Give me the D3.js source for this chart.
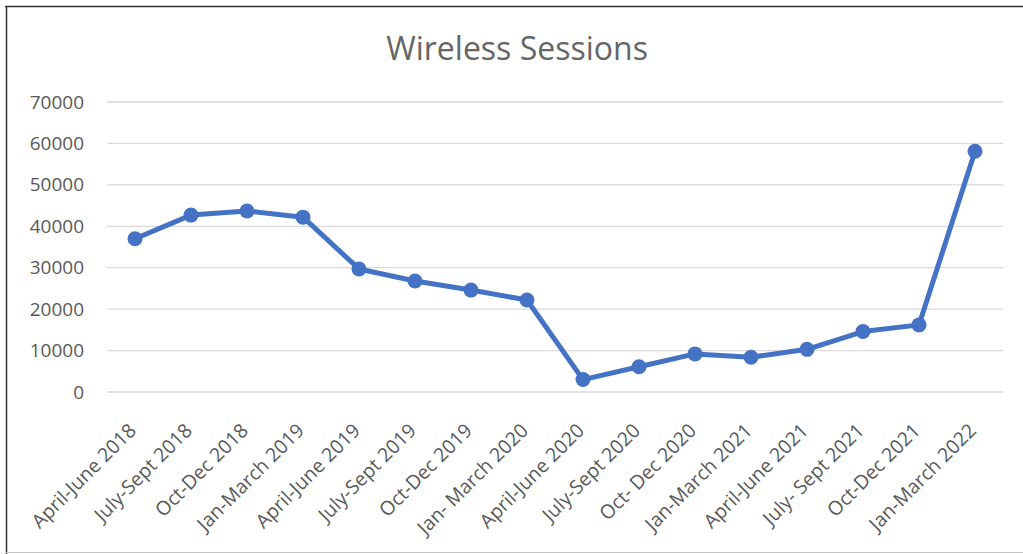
<!DOCTYPE html>
<html>
<head>
<meta charset="utf-8">
<script src="https://cdn.jsdelivr.net/npm/d3@7"></script>
<style>
  body { margin: 0; background: #fff; }
  text { font-family: "Open Sans", "Liberation Sans", sans-serif; fill: #595959; }
</style>
</head>
<body>
<svg id="chart" width="1023" height="554"></svg>
<script>
var quarters = ["April-June 2018", "July-Sept 2018", "Oct-Dec 2018", "Jan-March 2019",
    "April-June 2019", "July-Sept 2019", "Oct-Dec 2019", "Jan- March 2020",
    "April-June 2020", "July-Sept 2020", "Oct- Dec 2020", "Jan-March 2021",
    "April-June 2021", "July- Sept 2021", "Oct-Dec 2021", "Jan-March 2022"];
var sessions = [37000, 42700, 43700, 42200, 29700, 26800, 24600, 22200,
    3000, 6100, 9200, 8400, 10300, 14600, 16200, 58100];
var yTicks = [0, 10000, 20000, 30000, 40000, 50000, 60000, 70000];

var svg = d3.select("#chart");

var x = d3.scalePoint()
    .domain(quarters)
    .range([107, 1003])
    .padding(0.5);

var y = d3.scaleLinear()
    .domain([0, 70000])
    .range([392, 102]);

// frame (screenshot edge)
svg.append("line").attr("x1", 5).attr("x2", 1023).attr("y1", 6.5).attr("y2", 6.5)
    .attr("stroke", "#333").attr("stroke-width", 1.5);
svg.append("line").attr("x1", 6.5).attr("x2", 6.5).attr("y1", 6).attr("y2", 554)
    .attr("stroke", "#333").attr("stroke-width", 1.5);
svg.append("line").attr("x1", 6).attr("x2", 1023).attr("y1", 552.5).attr("y2", 552.5)
    .attr("stroke", "#c8c8c8").attr("stroke-width", 1);

// title
svg.append("text")
    .attr("x", 517)
    .attr("y", 60)
    .attr("text-anchor", "middle")
    .style("font-size", "32px")
    .style("fill", "#666")
    .text("Wireless Sessions");

// gridlines
svg.append("g")
    .selectAll("line")
    .data(yTicks)
    .join("line")
    .attr("x1", 107)
    .attr("x2", 1003)
    .attr("y1", d => y(d))
    .attr("y2", d => y(d))
    .attr("stroke", "#d9d9d9")
    .attr("stroke-width", 1.3);

// y axis labels
var yAxis = svg.append("g")
    .attr("transform", "translate(84,0)")
    .call(d3.axisLeft(y).tickValues(yTicks).tickFormat(d3.format("d")).tickSize(0).tickPadding(0));
yAxis.select(".domain").remove();
yAxis.selectAll("text")
    .attr("fill", "#595959")
    .style("font-size", "19px")
    .style("font-family", "\"Open Sans\", sans-serif");

// x axis labels
var xAxis = svg.append("g")
    .attr("transform", "translate(0,392)")
    .call(d3.axisBottom(x).tickSize(0));
xAxis.select(".domain").remove();
xAxis.selectAll("text")
    .attr("fill", "#595959")
    .style("font-size", "19.5px")
    .style("font-family", "\"Open Sans\", sans-serif")
    .style("text-anchor", "end")
    .attr("y", 0)
    .attr("dy", "0.35em")
    .attr("transform", "translate(-3,35) rotate(-45)");

// line
var line = d3.line()
    .x((d, i) => x(quarters[i]))
    .y(d => y(d));

svg.append("path")
    .datum(sessions)
    .attr("fill", "none")
    .attr("stroke", "#4472C4")
    .attr("stroke-width", 5)
    .attr("stroke-linejoin", "round")
    .attr("d", line);

svg.append("g")
    .selectAll("circle")
    .data(sessions)
    .join("circle")
    .attr("cx", (d, i) => x(quarters[i]))
    .attr("cy", d => y(d))
    .attr("r", 7.5)
    .attr("fill", "#4472C4");
</script>
</body>
</html>
